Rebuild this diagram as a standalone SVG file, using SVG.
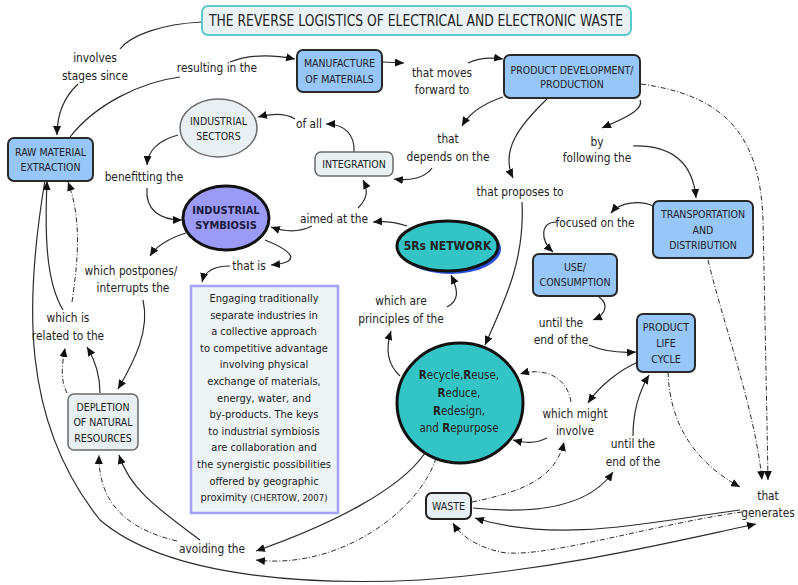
<svg xmlns="http://www.w3.org/2000/svg" width="798" height="585" viewBox="0 0 798 585">
<defs>
<marker id="ar" markerUnits="userSpaceOnUse" markerWidth="10" markerHeight="8" refX="9" refY="4" orient="auto">
<path d="M0,0 L9,4 L0,8 z" fill="#111"/>
</marker>
</defs>
<style>
text{font-family:'DejaVu Sans Condensed','DejaVu Sans','Liberation Sans',sans-serif;font-stretch:condensed;fill:#222;text-anchor:middle}
.lk{font-size:11.8px}
.bx{font-size:10.5px}
.qt{font-size:11px}
.blue{fill:#96c6fa;stroke:#2a2a2a;stroke-width:2}
.lite{fill:#e9f0f3;stroke:#6a6a6a;stroke-width:1.5}
.c{fill:none;stroke:#2b2b2b;stroke-width:1.2;marker-end:url(#ar)}
.c0{fill:none;stroke:#2b2b2b;stroke-width:1.2}
.d{fill:none;stroke:#2b2b2b;stroke-width:1;stroke-dasharray:5,2,1,2;marker-end:url(#ar)}
.bd{font-weight:bold}
</style>
<rect width="798" height="585" fill="#fff"/>

<g id="connectors">
<path class="c0" d="M202,22 C160,24 130,36 120,49"/>
<path class="c" d="M78,84 C63,98 57,115 57,135"/>
<path class="c0" d="M70,137 C95,105 140,82 180,77"/>
<path class="c" d="M230,62 C250,54 275,55 295,59"/>
<path class="c" d="M382,62 L404,63"/>
<path class="c" d="M468,63 C478,58 490,57 503,59"/>
<path class="c" d="M503,97 C485,103 470,112 462,126"/>
<path class="c" d="M432,168 C425,178 410,181 394,179"/>
<path class="c" d="M547,99 C520,125 500,150 513,178"/>
<path class="c" d="M640,100 C645,110 620,120 602,128"/>
<path class="c" d="M633,146 C675,145 693,165 696,198"/>
<path class="c" d="M653,206 C640,200 620,202 611,213"/>
<path class="c" d="M557,222 C540,222 540,240 553,252"/>
<path class="c" d="M599,297 C610,305 605,315 593,320"/>
<path class="c" d="M589,345 C605,352 620,353 636,352"/>
<path class="c" d="M638,362 C620,370 600,385 588,403"/>
<path class="d" d="M571,402 C568,380 548,366 520,374"/>
<path class="c" d="M547,438 C535,444 525,443 513,440"/>
<path class="d" d="M472,502 C520,492 555,480 564,442"/>
<path class="c" d="M473,508 C540,515 590,505 613,472"/>
<path class="c" d="M633,436 C633,410 640,390 649,375"/>
<path class="d" d="M668,372 C670,430 700,465 740,487"/>
<path class="d" d="M708,260 C725,330 755,410 762,480"/>
<path class="d" d="M641,84 C720,95 760,130 763,220 C765,320 767,420 768,480"/>
<path class="c" d="M740,510 C660,520 560,545 475,518"/>
<path class="d" d="M742,512 C650,525 540,560 500,552 C475,546 460,535 453,523"/>
<path class="c" d="M45,180 C25,300 20,420 100,520 C170,580 320,585 420,580 C560,570 680,540 756,524"/>
<path class="c" d="M63,310 C45,280 45,230 47,181"/>
<path class="d" d="M72,302 C78,260 82,220 68,182"/>
<path class="c" d="M100,393 C100,375 95,360 87,347"/>
<path class="d" d="M67,393 C60,380 62,365 65,348"/>
<path class="c" d="M143,300 C150,330 135,360 118,389"/>
<path class="c" d="M186,233 C170,238 157,245 150,256"/>
<path class="c" d="M265,240 C290,250 305,262 271,265"/>
<path class="c" d="M230,266 C215,266 205,270 202,282"/>
<path class="c" d="M178,135 C160,140 148,150 147,165"/>
<path class="c" d="M147,188 C145,210 160,220 182,220"/>
<path class="c" d="M312,226 C300,232 285,232 271,227"/>
<path class="c" d="M358,208 C368,198 368,190 363,180"/>
<path class="c" d="M407,226 C395,222 385,221 373,222"/>
<path class="c" d="M354,152 C355,135 345,124 326,124"/>
<path class="c" d="M295,119 C285,113 270,114 258,117"/>
<path class="c" d="M522,202 C525,260 505,300 485,345"/>
<path class="c" d="M400,376 C388,365 385,350 391,331"/>
<path class="c" d="M447,307 C460,300 458,290 451,275"/>
<path class="c" d="M425,453 C400,490 330,525 256,551"/>
<path class="d" d="M436,458 C420,510 340,570 256,560"/>
<path class="c" d="M200,540 C160,510 130,490 119,455"/>
<path class="d" d="M177,541 C130,530 98,505 99,455"/>
</g>

<g id="title">
<rect x="202" y="6" width="429" height="29" rx="6" fill="#eaf2f5" stroke="#5cc9cc" stroke-width="2"/>
<text x="416" y="26" font-size="15" textLength="414" lengthAdjust="spacingAndGlyphs">THE REVERSE LOGISTICS OF ELECTRICAL AND ELECTRONIC WASTE</text>
</g>
<g id="manufacture">
<rect class="blue" x="297" y="50" width="85" height="42" rx="6"/>
<text class="bx" x="339.5" y="67">MANUFACTURE</text>
<text class="bx" x="339.5" y="83">OF MATERIALS</text>
</g>
<g id="product-development">
<rect class="blue" x="504" y="55" width="136" height="43" rx="6"/>
<text class="bx" x="572" y="74">PRODUCT DEVELOPMENT/</text>
<text class="bx" x="572" y="88">PRODUCTION</text>
</g>
<g id="raw-material">
<rect class="blue" x="8" y="138" width="85" height="43" rx="6"/>
<text class="bx" x="50.5" y="156">RAW MATERIAL</text>
<text class="bx" x="50.5" y="171">EXTRACTION</text>
</g>
<g id="industrial-sectors">
<ellipse class="lite" cx="218.5" cy="128" rx="38.5" ry="29"/>
<text class="bx" x="218.5" y="125">INDUSTRIAL</text>
<text class="bx" x="218.5" y="140">SECTORS</text>
</g>
<g id="integration">
<rect class="lite" x="315" y="152" width="78" height="24" rx="6"/>
<text class="bx" x="354" y="168">INTEGRATION</text>
</g>
<g id="industrial-symbiosis">
<ellipse cx="226" cy="218" rx="43" ry="32" fill="#9b9bf7" stroke="#111" stroke-width="3"/>
<text class="bx bd" x="226" y="214" style="fill:#1a1a3a;font-size:11px">INDUSTRIAL</text>
<text class="bx bd" x="226" y="229" style="fill:#1a1a3a;font-size:11px">SYMBIOSIS</text>
</g>
<g id="network-5rs">
<ellipse cx="450.5" cy="249" rx="50.5" ry="25" fill="#2a4fe0"/>
<ellipse cx="447.5" cy="246" rx="50.5" ry="25" fill="#33c5c5" stroke="#111" stroke-width="3"/>
<text class="bd" x="447.5" y="250" style="font-size:12px">5Rs NETWORK</text>
</g>
<g id="recycle">
<ellipse cx="460" cy="403" rx="63" ry="60" fill="#33c5c5" stroke="#111" stroke-width="3"/>
<text x="459" y="379" style="font-size:11.5px"><tspan class="bd">R</tspan>ecycle,<tspan class="bd">R</tspan>euse,</text>
<text x="459" y="397" style="font-size:11.5px"><tspan class="bd">R</tspan>educe,</text>
<text x="459" y="415" style="font-size:11.5px"><tspan class="bd">R</tspan>edesign,</text>
<text x="459" y="432" style="font-size:11.5px">and <tspan class="bd">R</tspan>epurpose</text>
</g>
<g id="transportation">
<rect class="blue" x="653" y="201" width="100" height="57" rx="6"/>
<text class="bx" x="703" y="218">TRANSPORTATION</text>
<text class="bx" x="703" y="234">AND</text>
<text class="bx" x="703" y="249">DISTRIBUTION</text>
</g>
<g id="use-consumption">
<rect class="blue" x="533" y="254" width="84" height="42" rx="6"/>
<text class="bx" x="575" y="271">USE/</text>
<text class="bx" x="575" y="286">CONSUMPTION</text>
</g>
<g id="product-life-cycle">
<rect class="blue" x="637" y="314" width="58" height="58" rx="6"/>
<text class="bx" x="666" y="331">PRODUCT</text>
<text class="bx" x="666" y="347">LIFE</text>
<text class="bx" x="666" y="363">CYCLE</text>
</g>
<g id="depletion">
<rect class="lite" x="68" y="394" width="70" height="56" rx="6"/>
<text class="bx" x="103" y="411">DEPLETION</text>
<text class="bx" x="103" y="426">OF NATURAL</text>
<text class="bx" x="103" y="442">RESOURCES</text>
</g>
<g id="waste">
<rect class="lite" x="426" y="493" width="45" height="26" rx="6" style="stroke:#222;stroke-width:2"/>
<text class="bx" x="448.5" y="510">WASTE</text>
</g>
<g id="definition">
<rect x="191" y="286" width="147" height="227" fill="#eef3f5" stroke="#a3a3fb" stroke-width="2.5"/>
<text class="qt" x="264" y="302">Engaging traditionally</text>
<text class="qt" x="264" y="318.6">separate  industries in</text>
<text class="qt" x="264" y="335.2">a collective approach</text>
<text class="qt" x="264" y="351.8">to competitive advantage</text>
<text class="qt" x="264" y="368.4">involving physical</text>
<text class="qt" x="264" y="385">exchange of materials,</text>
<text class="qt" x="264" y="401.6">energy, water, and</text>
<text class="qt" x="264" y="418.2">by-products. The keys</text>
<text class="qt" x="264" y="434.8">to industrial symbiosis</text>
<text class="qt" x="264" y="451.4">are collaboration and</text>
<text class="qt" x="264" y="468">the synergistic possibilities</text>
<text class="qt" x="264" y="484.6">offered by geographic</text>
<text class="qt" x="264" y="501.2">proximity <tspan style="font-size:9.5px">(CHERTOW, 2007)</tspan></text>
</g>

<g id="linking-phrases">
<text class="lk" x="95" y="62">involves</text>
<text class="lk" x="95" y="80">stages since</text>
<text class="lk" x="217" y="72">resulting in the</text>
<text class="lk" x="442" y="77">that moves</text>
<text class="lk" x="442" y="94">forward to</text>
<text class="lk" x="309" y="128">of all</text>
<text class="lk" x="144" y="181">benefitting the</text>
<text class="lk" x="448" y="143">that</text>
<text class="lk" x="448" y="161">depends on the</text>
<text class="lk" x="597" y="146">by</text>
<text class="lk" x="597" y="162">following the</text>
<text class="lk" x="520" y="196">that proposes to</text>
<text class="lk" x="334" y="223">aimed at the</text>
<text class="lk" x="595" y="227">focused on the</text>
<text class="lk" x="131" y="275">which postpones/</text>
<text class="lk" x="133" y="292">interrupts the</text>
<text class="lk" x="249" y="270">that is</text>
<text class="lk" x="68" y="322">which is</text>
<text class="lk" x="68" y="340">related to the</text>
<text class="lk" x="401" y="305">which are</text>
<text class="lk" x="401" y="323">principles of the</text>
<text class="lk" x="561" y="327">until the</text>
<text class="lk" x="561" y="344">end of the</text>
<text class="lk" x="575" y="418">which might</text>
<text class="lk" x="575" y="435">involve</text>
<text class="lk" x="633" y="448">until the</text>
<text class="lk" x="633" y="466">end of the</text>
<text class="lk" x="212" y="553">avoiding the</text>
<text class="lk" x="768" y="500">that</text>
<text class="lk" x="768" y="517">generates</text>
</g>
</svg>
